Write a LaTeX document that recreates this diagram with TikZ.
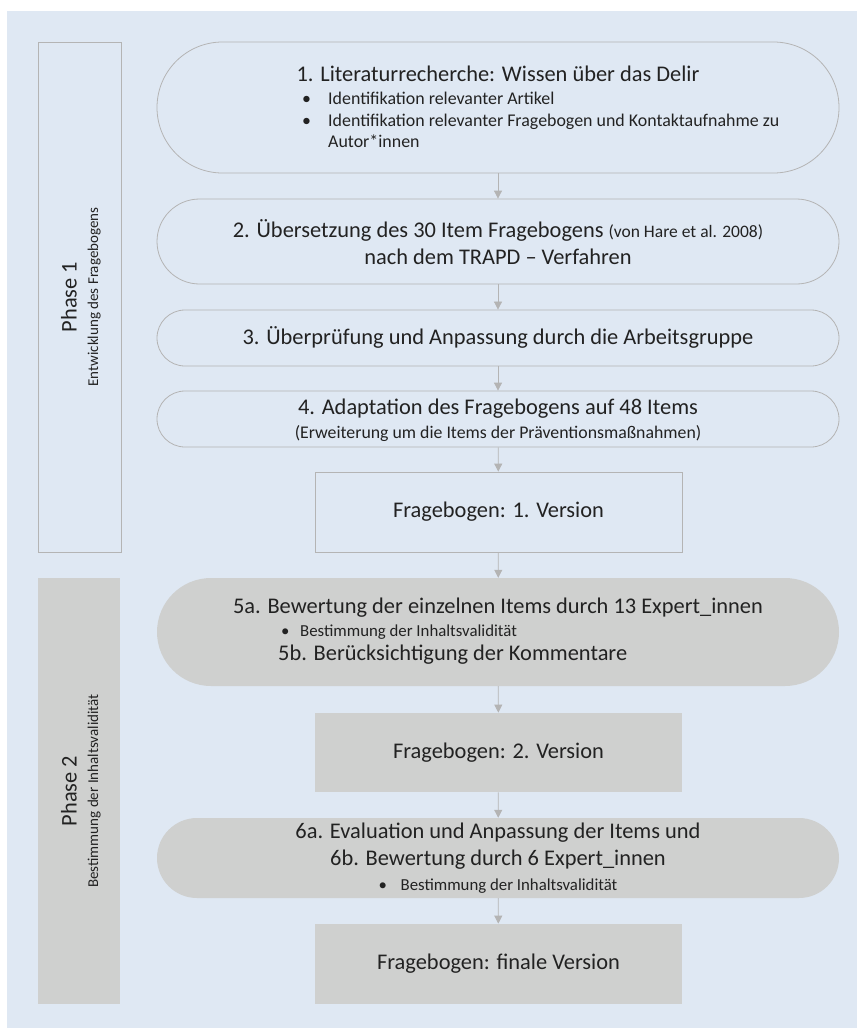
\documentclass[tikz,border=0pt]{standalone}
\usepackage{fontspec}
\setmainfont{Carlito}
\usetikzlibrary{shapes.misc,arrows.meta}
\definecolor{bgblue}{HTML}{DFE8F3}
\definecolor{boxgray}{HTML}{CFD0CF}
\definecolor{linegray}{HTML}{B4B4B4}
\definecolor{txt}{HTML}{222222}
\newcommand{\bigf}{\fontsize{22.4}{27.5}\selectfont}
\newcommand{\smallf}{\fontsize{16.8}{21.5}\selectfont}
\newcommand{\bul}{\makebox[27pt][l]{\hspace{1pt}\textbullet}}
\tikzset{
  stadium/.style={rounded rectangle, draw=linegray, fill=bgblue, line width=0.8pt,
    minimum width=682pt, inner sep=0pt},
  stadiumgray/.style={rounded rectangle, fill=boxgray, minimum width=682pt, inner sep=0pt},
  versionbox/.style={rectangle, draw=linegray, fill=bgblue, line width=0.8pt,
    minimum width=367pt, minimum height=80pt, inner sep=0pt, text=txt, font=\bigf},
  versiongray/.style={versionbox, draw=none, fill=boxgray},
  label/.style={inner sep=0pt, text=txt, align=center, font=\bigf},
  flow/.style={draw=linegray, line width=0.8pt, -{Triangle[width=8pt,length=8pt]}}
}
\begin{document}
\begin{tikzpicture}[x=1pt,y=-1pt]
    \useasboundingbox (0,0) rectangle (857,1028);
    \fill[bgblue] (7,11) rectangle (857,1028);

    % phases
    \node[draw=linegray, line width=0.8pt, fill=bgblue, minimum width=83pt, minimum height=510pt, inner sep=0pt] (p1) at (79.5,297) {};
    \node[fill=boxgray, minimum width=82pt, minimum height=426pt, inner sep=0pt] (p2) at (79,791) {};
    \node[label, rotate=90] (p1text) at (81,297) {Phase 1\\[-6pt]{\fontsize{15}{18}\selectfont Entwicklung des Fragebogens}};
    \node[label, rotate=90] (p2text) at (81,791) {Phase 2\\[-6pt]{\fontsize{15}{18}\selectfont Bestimmung der Inhaltsvalidität}};

    % steps
    \node[stadium, minimum height=131pt] (s1) at (498,107.5) {};
    \node[stadium, minimum height=85pt] (s2) at (498,241.5) {};
    \node[stadium, minimum height=56pt] (s3) at (498,338) {};
    \node[stadium, minimum height=56pt] (s4) at (498,419) {};
    \node[versionbox] (v1) at (498.5,512) {Fragebogen: 1. Version};
    \node[stadiumgray, minimum height=108pt] (s5) at (498,632) {};
    \node[versiongray, minimum height=79pt] (v2) at (498.5,752.5) {Fragebogen: 2. Version};
    \node[stadiumgray, minimum height=80pt] (s6) at (498,858) {};
    \node[versiongray] (v3) at (498.5,964) {Fragebogen: finale Version};

    % texts
    \node[label] (t1) at (498,74) {1. Literaturrecherche: Wissen über das Delir};
    \node[label, anchor=west, align=left, font=\fontsize{17.9}{21.5}\selectfont] (t1list) at (301,120)
        {\bul Identifikation relevanter Artikel\\
         \bul Identifikation relevanter Fragebogen und Kontaktaufnahme zu\\
         \hspace{27pt}Autor*innen};
    \node[label] (t2) at (498,242) {2. Übersetzung des 30 Item Fragebogens {\fontsize{17.5}{20}\selectfont (von Hare et al. 2008)}\\
        nach dem TRAPD – Verfahren};
    \node[label] (t3) at (498,337) {3. Überprüfung und Anpassung durch die Arbeitsgruppe};
    \node[label] (t4) at (498,420) {4. Adaptation des Fragebogens auf 48 Items\\[-4pt]
        {\fontsize{17.8}{20}\selectfont (Erweiterung um die Items der Präventionsmaßnahmen)}};
    \node[label] (t5a) at (498,608) {5a. Bewertung der einzelnen Items durch 13 Expert\_innen};
    \node[label, anchor=west, font=\smallf] (t5bul) at (278,632) {\makebox[22pt][l]{\hspace{3pt}\textbullet}Bestimmung der Inhaltsvalidität};
    \node[label, anchor=west] (t5b) at (278,655) {5b. Berücksichtigung der Kommentare};
    \node[label] (t6) at (498,858) {6a. Evaluation und Anpassung der Items und\\
        6b. Bewertung durch 6 Expert\_innen\\[-3pt]
        {\smallf\makebox[22pt][l]{\textbullet}Bestimmung der Inhaltsvalidität}};

    % arrows
    \draw[flow] (s1) -- (s2);
    \draw[flow] (s2) -- (s3);
    \draw[flow] (s3) -- (s4);
    \draw[flow] (s4) -- (v1);
    \draw[flow] (v1) -- (s5);
    \draw[flow] (s5) -- (v2);
    \draw[flow] (v2) -- (s6);
    \draw[flow] (s6) -- (v3);
\end{tikzpicture}
\end{document}
